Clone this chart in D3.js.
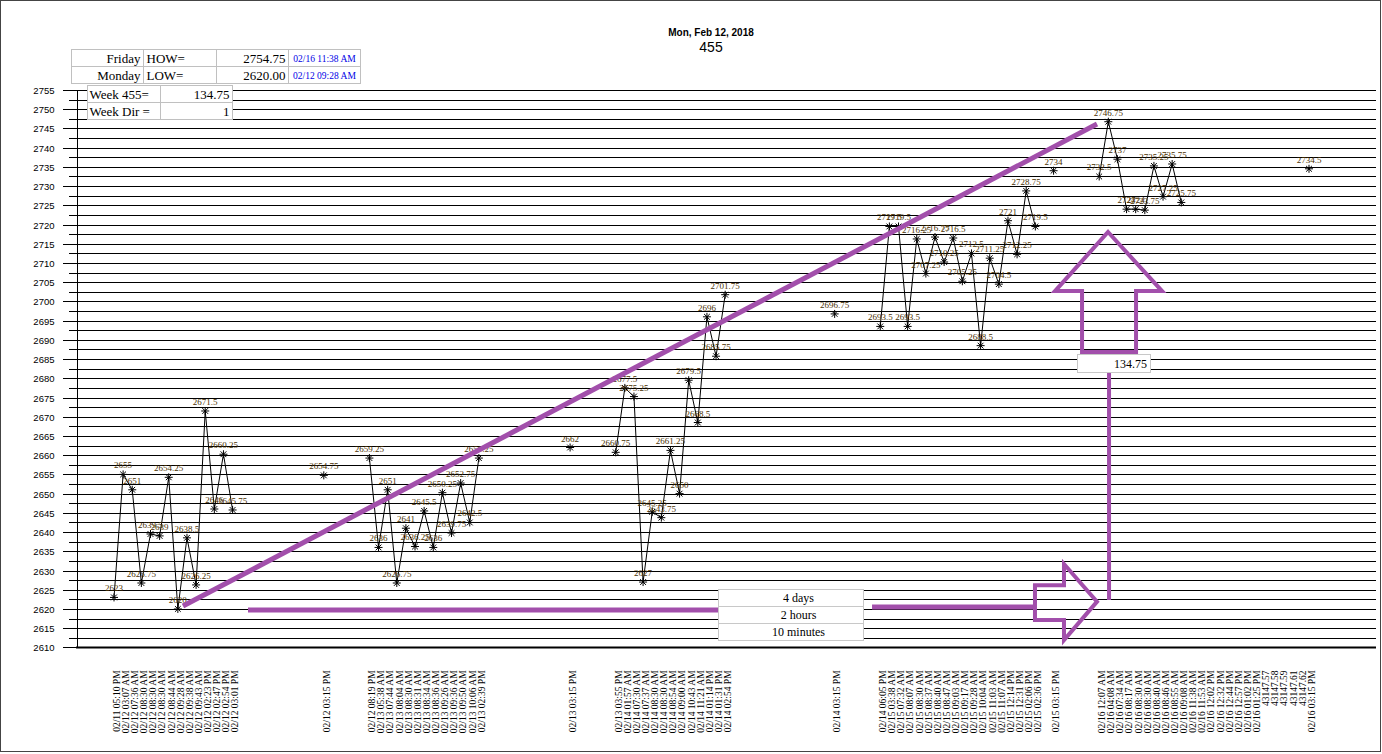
<!DOCTYPE html>
<html><head><meta charset="utf-8">
<script src="https://cdn.jsdelivr.net/npm/d3@7"></script>
<style>body{margin:0;background:#fff}svg{display:block}</style>
</head><body>
<script>
// ---------- DATA ----------
const xLabels = [
 "02/11 05:10 PM","02/12 03:07 AM","02/12 07:36 AM","02/12 08:30 AM","02/12 08:30 AM","02/12 08:30 AM","02/12 08:44 AM","02/12 09:28 AM","02/12 09:38 AM","02/12 09:43 AM","02/12 02:23 PM","02/12 02:47 PM","02/12 02:54 PM","02/12 03:01 PM",
 "","","","","","","","","",
 "02/12 03:15 PM",
 "","","","",
 "02/12 08:19 PM","02/13 05:38 AM","02/13 07:44 AM","02/13 08:04 AM","02/13 08:30 AM","02/13 08:31 AM","02/13 08:34 AM","02/13 08:36 AM","02/13 09:26 AM","02/13 09:36 AM","02/13 09:50 AM","02/13 10:06 AM","02/13 02:39 PM",
 "","","","","","","","","",
 "02/13 03:15 PM",
 "","","","",
 "02/13 03:55 PM","02/14 01:57 AM","02/14 07:30 AM","02/14 07:37 AM","02/14 08:30 AM","02/14 08:30 AM","02/14 08:54 AM","02/14 09:00 AM","02/14 10:43 AM","02/14 11:21 AM","02/14 01:14 PM","02/14 01:31 PM","02/14 02:54 PM",
 "","","","","","","","","","","",
 "02/14 03:15 PM",
 "","","","",
 "02/14 06:05 PM","02/15 03:38 AM","02/15 07:32 AM","02/15 08:07 AM","02/15 08:30 AM","02/15 08:37 AM","02/15 08:40 AM","02/15 08:47 AM","02/15 09:03 AM","02/15 09:17 AM","02/15 09:28 AM","02/15 10:04 AM","02/15 11:03 AM","02/15 11:07 AM","02/15 12:14 PM","02/15 12:31 PM","02/15 02:06 PM","02/15 02:36 PM",
 "",
 "02/15 03:15 PM",
 "","","","",
 "02/16 12:07 AM","02/16 04:08 AM","02/16 07:34 AM","02/16 08:17 AM","02/16 08:30 AM","02/16 08:30 AM","02/16 08:40 AM","02/16 08:46 AM","02/16 08:55 AM","02/16 09:08 AM",
 "02/16 11:38 AM","02/16 11:53 AM","02/16 12:02 PM","02/16 12:32 PM","02/16 12:44 PM","02/16 12:57 PM","02/16 01:02 PM","02/16 01:25 PM",
 "43147.57","43147.58","43147.59","43147.61","43147.62",
 "02/16 03:15 PM"
];
const prices = [
 2623,2655,2651,2626.75,2639.5,2639,2654.25,2620,2638.5,2626.25,2671.5,2646,2660.25,2645.75,
 null,null,null,null,null,null,null,null,null,
 2654.75,
 null,null,null,null,
 2659.25,2636,2651,2626.75,2641,2636.25,2645.5,2636,2650.25,2639.75,2652.75,2642.5,2659.25,
 null,null,null,null,null,null,null,null,null,
 2662,
 null,null,null,null,
 2660.75,2677.5,2675.25,2627,2645.25,2643.75,2661.25,2650,2679.5,2668.5,2696,2685.75,2701.75,
 null,null,null,null,null,null,null,null,null,null,null,
 2696.75,
 null,null,null,null,
 2693.5,2719.5,2719.5,2693.5,2716.25,2707.25,2716.75,2710.25,2716.5,2705.25,2712.5,2688.5,2711.25,2704.5,2721,2712.25,2728.75,2719.5,
 null,
 2734,
 null,null,null,null,
 2732.5,2746.75,2737,2724,2724,2723.75,2735.25,2727.25,2735.75,2725.75,
 null,null,null,null,null,null,null,null,null,null,null,null,null,
 2734.5
];
const yDomain = [2610, 2755];
const titleLines = ["Mon, Feb 12, 2018", "455"];
const statRows = [["Friday","HOW=","2754.75","02/16 11:38 AM"],["Monday","LOW=","2620.00","02/12 09:28 AM"]];
const weekRows = [["Week 455=","134.75"],["Week Dir =","1"]];
const spanLabels = ["4 days","2 hours","10 minutes"];
const moveLabel = "134.75";

// ---------- SCALES ----------
const svg = d3.select("body").append("svg").attr("width",1382).attr("height",754);
const x = d3.scalePoint().domain(d3.range(xLabels.length)).range([114,1309]);
const y = d3.scaleLinear().domain(yDomain).range([647.4,90]);
const axisX = 76, rightX = 1376;
const crisp = v => Math.round(v) + 0.5;

// outer frame
svg.append("rect").attr("x",0.5).attr("y",0.5).attr("width",1380).attr("height",751)
  .attr("fill","#fff").attr("stroke","#444");

// title
svg.append("text").attr("x",711).attr("y",36).attr("text-anchor","middle")
  .attr("font-family","Liberation Sans, Arial").attr("font-weight","bold").attr("font-size",10).text(titleLines[0]);
svg.append("text").attr("x",711).attr("y",52).attr("text-anchor","middle")
  .attr("font-family","Liberation Sans, Arial").attr("font-size",14).text(titleLines[1]);

// gridlines every 2.5
const allTicks = d3.range(yDomain[0], yDomain[1] + 0.01, 2.5);
const majorTicks = allTicks.filter(v => v % 5 === 0);
svg.append("g").selectAll("line").data(allTicks).join("line")
  .attr("x1",axisX).attr("x2",rightX)
  .attr("y1",d=>crisp(y(d))).attr("y2",d=>crisp(y(d)))
  .attr("stroke","#000").attr("stroke-width",1).attr("shape-rendering","crispEdges");

// y axis (major with labels, minor without)
const gyMinor = svg.append("g").attr("transform",`translate(${axisX+0.5},0)`)
  .call(d3.axisLeft(y).tickValues(allTicks.filter(v => v % 5 !== 0)).tickSize(8).tickFormat(""));
const gy = svg.append("g").attr("transform",`translate(${axisX+0.5},0)`)
  .call(d3.axisLeft(y).tickValues(majorTicks).tickSize(14).tickPadding(8).tickFormat(d3.format("d")));
[gy, gyMinor].forEach(g => {
  g.select(".domain").attr("stroke","#000").attr("shape-rendering","crispEdges");
  g.selectAll(".tick line").attr("stroke","#000").attr("shape-rendering","crispEdges");
  g.selectAll(".tick").attr("transform", d => `translate(0,${crisp(y(d))})`);
});
gy.selectAll("text").attr("font-family","Liberation Sans, Arial").attr("font-size",9.5).attr("fill","#000");

// x axis line
svg.append("line").attr("x1",axisX).attr("x2",rightX).attr("y1",y(yDomain[0])).attr("y2",y(yDomain[0]))
  .attr("stroke","#000").attr("stroke-width",2);

// x axis labels
const gx = svg.append("g").attr("transform",`translate(0,${y(yDomain[0])})`)
  .call(d3.axisBottom(x).tickSize(0).tickFormat(i => xLabels[i]));
gx.select(".domain").remove();
gx.selectAll("text")
  .attr("transform","rotate(-90)").attr("text-anchor","end")
  .attr("x",-23).attr("y",2).attr("dy","0.35em")
  .attr("font-family","Liberation Serif, Times New Roman").attr("font-size",9.5).attr("fill","#000");

// data line
const pts = prices.map((v,i)=>({i,v})).filter(d=>d.v!==null);
svg.append("path").datum(prices)
  .attr("d", d3.line().defined(d=>d!==null).x((d,i)=>x(i)).y(d=>y(d)))
  .attr("fill","none").attr("stroke","#000").attr("stroke-width",1);

// markers
const star = {draw(ctx,size){const r=Math.sqrt(size)/2, d=r*0.72;
  ctx.moveTo(-r,0);ctx.lineTo(r,0);ctx.moveTo(0,-r);ctx.lineTo(0,r);
  ctx.moveTo(-d,-d);ctx.lineTo(d,d);ctx.moveTo(-d,d);ctx.lineTo(d,-d);}};
svg.append("g").selectAll("path").data(pts).join("path")
  .attr("transform",d=>`translate(${x(d.i)},${y(d.v)})`)
  .attr("d", d3.symbol(star, 64)).attr("fill","none").attr("stroke","#000").attr("stroke-width",1);

// point labels
svg.append("g").selectAll("text").data(pts).join("text")
  .attr("x",d=>x(d.i)).attr("y",d=>y(d.v)-6).attr("text-anchor","middle")
  .attr("font-family","Liberation Serif, Times New Roman").attr("font-size",9)
  .attr("fill","#4a3000").text(d=>String(d.v));

// ---------- ANNOTATIONS (in data units) ----------
const purple = "#a24fab";
const P = (i,v) => [x(0) + (x(1)-x(0))*i, y(v)];
svg.append("line")
  .attr("x1",P(7.56,2620.75)[0]).attr("y1",P(7.56,2620.75)[1])
  .attr("x2",P(107.76,2746.15)[0]).attr("y2",P(107.76,2746.15)[1])
  .attr("stroke",purple).attr("stroke-width",5);
svg.append("line").attr("x1",P(14.69,0)[0]).attr("x2",P(66.3,0)[0])
  .attr("y1",y(2619.7)).attr("y2",y(2619.7)).attr("stroke",purple).attr("stroke-width",5);
svg.append("line").attr("x1",P(83.1,0)[0]).attr("x2",P(101,0)[0])
  .attr("y1",y(2620.5)).attr("y2",y(2620.5)).attr("stroke",purple).attr("stroke-width",5);
const rightArrow = [[100.96,2626.2],[104.14,2626.2],[104.14,2631.7],[107.76,2621.9],[104.14,2611.9],[104.14,2617.1],[100.96,2617.1]];
svg.append("path").attr("d", d3.line()(rightArrow.map(p=>P(p[0],p[1]))) + "Z")
  .attr("fill","none").attr("stroke",purple).attr("stroke-width",4).attr("stroke-linejoin","miter");
svg.append("line").attr("x1",P(109.08,0)[0]).attr("x2",P(109.08,0)[0])
  .attr("y1",y(2681.6)).attr("y2",y(2622.3)).attr("stroke",purple).attr("stroke-width",4);
const upArrow = [[108.97,2718.06],[114.89,2702.7],[112.04,2702.7],[112.04,2686.84],[106.12,2686.84],[106.12,2702.7],[103.16,2702.7]];
svg.append("path").attr("d", d3.line()(upArrow.map(p=>P(p[0],p[1]))) + "Z")
  .attr("fill","none").attr("stroke",purple).attr("stroke-width",4).attr("stroke-linejoin","miter");

const mb = [P(105.57,2686.3), P(113.57,2681.6)];
svg.append("rect").attr("x",crisp(mb[0][0])).attr("y",crisp(mb[0][1]))
  .attr("width",Math.round(mb[1][0]-mb[0][0])).attr("height",Math.round(mb[1][1]-mb[0][1]))
  .attr("fill","#fff").attr("stroke","#c8c8c8");
svg.append("text").attr("x",mb[1][0]-3).attr("y",mb[1][1]-4).attr("text-anchor","end")
  .attr("font-family","Liberation Serif, Times New Roman").attr("font-size",12).text(moveLabel);

const tb = [P(66.21,2625.2), P(82.11,2611.9)];
const rowH = (tb[1][1]-tb[0][1])/spanLabels.length;
spanLabels.forEach((t,k)=>{
  svg.append("rect").attr("x",crisp(tb[0][0])).attr("y",crisp(tb[0][1]+k*rowH))
    .attr("width",Math.round(tb[1][0]-tb[0][0])).attr("height",Math.round(rowH))
    .attr("fill","#fff").attr("stroke","#c8c8c8");
  svg.append("text").attr("x",(tb[0][0]+tb[1][0])/2+8).attr("y",tb[0][1]+k*rowH+rowH-4)
    .attr("text-anchor","middle").attr("font-family","Liberation Serif, Times New Roman")
    .attr("font-size",12).text(t);
});

// ---------- TABLES ----------
const serif = "Liberation Serif, Times New Roman";
const t1x = [71.5,143.5,216.5,288.5,360.5], t1y = [49.5,66.5,83.5];
statRows.forEach((row,r)=>{
  row.forEach((txt,c)=>{
    svg.append("rect").attr("x",t1x[c]).attr("y",t1y[r]).attr("width",t1x[c+1]-t1x[c]).attr("height",t1y[r+1]-t1y[r])
      .attr("fill","#fff").attr("stroke","#c0c0c0");
    const tx = svg.append("text").attr("y",t1y[r]+13).attr("font-family",serif).text(txt);
    if (c===0 || c===2) tx.attr("x",t1x[c+1]-3).attr("text-anchor","end").attr("font-size",13);
    else if (c===1) tx.attr("x",t1x[c]+3).attr("font-size",13);
    else tx.attr("x",(t1x[c]+t1x[c+1])/2).attr("text-anchor","middle").attr("font-size",9.5).attr("fill","#0000e6").attr("y",t1y[r]+12);
  });
});
const t2x = [87.5,160.5,232.5], t2y = [85.5,102.5,119.5];
weekRows.forEach((row,r)=>{
  row.forEach((txt,c)=>{
    svg.append("rect").attr("x",t2x[c]).attr("y",t2y[r]).attr("width",t2x[c+1]-t2x[c]).attr("height",t2y[r+1]-t2y[r])
      .attr("fill","#fff").attr("stroke","#c0c0c0");
    const tx = svg.append("text").attr("y",t2y[r]+13).attr("font-family",serif).attr("font-size",13).text(txt);
    if (c===0) tx.attr("x",t2x[c]+2); else tx.attr("x",t2x[c+1]-3).attr("text-anchor","end");
  });
});
</script>
</body></html>
